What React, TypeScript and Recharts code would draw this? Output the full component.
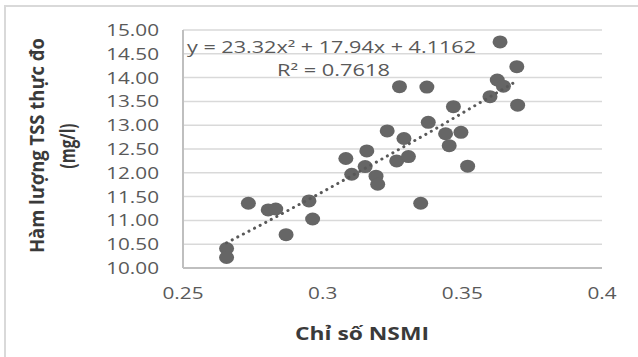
import React from 'react';
import { ScatterChart, Scatter, XAxis, YAxis, CartesianGrid } from 'recharts';

const nsmi = [
  0.2656, 0.2656, 0.2734, 0.2805, 0.2832, 0.2869, 0.2951, 0.2964, 0.3083, 0.3104, 0.3152,
  0.3158, 0.3191, 0.3197, 0.3231, 0.3265, 0.3275, 0.3291, 0.3307, 0.3351, 0.3373, 0.3378,
  0.344, 0.3453, 0.3468, 0.3495, 0.3519, 0.3599, 0.3625, 0.3635, 0.3647, 0.3695, 0.3698,
];
const tss = [
  10.41, 10.22, 11.36, 11.22, 11.24, 10.7, 11.41, 11.03, 12.3, 11.97, 12.13,
  12.46, 11.93, 11.76, 12.88, 12.25, 13.81, 12.72, 12.34, 11.36, 13.8, 13.06,
  12.82, 12.57, 13.39, 12.85, 12.14, 13.6, 13.95, 14.75, 13.82, 14.23, 13.42,
];
const trendNsmi = [0.2656, 0.28, 0.3, 0.32, 0.34, 0.36, 0.3695];
const trendTss = [10.53, 10.97, 11.6, 12.25, 12.91, 13.6, 13.93];

const xTicks = [0.25, 0.3, 0.35, 0.4];
const yTicks = [10, 10.5, 11, 11.5, 12, 12.5, 13, 13.5, 14, 14.5, 15];

const equationText = 'y = 23.32x² + 17.94x + 4.1162';
const r2Text = 'R² = 0.7618';
const xTitle = 'Chỉ số NSMI';
const yTitle1 = 'Hàm lượng TSS thực đo';
const yTitle2 = '(mg/l)';

const points = nsmi.map((x, i) => ({ x, y: tss[i] }));
const trend = trendNsmi.map((x, i) => ({ x, y: trendTss[i] }));

const FONT = '"Open Sans", sans-serif';

const YTick = (props: any) => {
  const { x, y, payload } = props;
  return (
    <g transform={`translate(${x},${y})`}>
      <text transform="scale(1.22,1)" textAnchor="end" dy="0.355em" fill="#595959" fontSize={17} fontFamily={FONT}>
        {Number(payload.value).toFixed(2)}
      </text>
    </g>
  );
};

const XTick = (props: any) => {
  const { x, y, payload } = props;
  return (
    <g transform={`translate(${x},${y})`}>
      <text transform="scale(1.22,1)" textAnchor="middle" dy="0.72em" fill="#595959" fontSize={17} fontFamily={FONT}>
        {String(payload.value)}
      </text>
    </g>
  );
};

const Dot = (props: any) => {
  const { cx, cy } = props;
  if (cx == null || cy == null) return <g />;
  return <ellipse cx={cx} cy={cy} rx={7.5} ry={6.5} fill="#666666" />;
};

const NoDot = () => <g />;

export default function App() {
  return (
    <div style={{ position: 'absolute', left: 0, top: 0, width: 638, height: 357, overflow: 'hidden', background: '#fff' }}>
      <div
        style={{
          position: 'absolute',
          left: 4,
          top: 5,
          width: 700,
          height: 400,
          border: '2px solid #d9d9d9',
          boxSizing: 'border-box',
        }}
      />
      <div style={{ position: 'absolute', left: 0, top: 0 }}>
        <ScatterChart width={638} height={357} margin={{ top: 30, right: 36, bottom: 59, left: 123 }}>
          <CartesianGrid vertical={false} stroke="#d9d9d9" strokeWidth={1.5} />
          <XAxis
            dataKey="x"
            type="number"
            domain={[0.25, 0.4]}
            ticks={xTicks}
            height={30}
            axisLine={{ stroke: '#bfbfbf', strokeWidth: 2 }}
            tickLine={false}
            tickSize={6}
            tickMargin={13}
            tick={<XTick />}
            allowDataOverflow
          />
          <YAxis
            dataKey="y"
            type="number"
            domain={[10, 15]}
            ticks={yTicks}
            width={60}
            axisLine={{ stroke: '#bfbfbf', strokeWidth: 2 }}
            tickLine={false}
            tickSize={6}
            tickMargin={18}
            tick={<YTick />}
            allowDataOverflow
          />
          <Scatter data={points} shape={<Dot />} isAnimationActive={false} />
          <Scatter
            data={trend}
            shape={<NoDot />}
            line={{ stroke: '#595959', strokeWidth: 3, strokeDasharray: '0.1 6.2', strokeLinecap: 'round' }}
            lineType="joint"
            isAnimationActive={false}
          />
        </ScatterChart>
      </div>
      <svg width={638} height={357} style={{ position: 'absolute', left: 0, top: 0, pointerEvents: 'none' }}>
        <text x={187} y={53} fontSize={15.5} fontFamily={FONT} fill="#595959" textLength={289} lengthAdjust="spacingAndGlyphs">
          {equationText}
        </text>
        <text x={277} y={76} fontSize={15.5} fontFamily={FONT} fill="#595959" textLength={113} lengthAdjust="spacingAndGlyphs">
          {r2Text}
        </text>
        <text x={295} y={340} fontSize={17} fontWeight="bold" fontFamily={FONT} fill="#3a3a3a" textLength={134} lengthAdjust="spacingAndGlyphs">
          {xTitle}
        </text>
        <g transform="translate(44,145.5) rotate(-90) scale(1,1.15)">
          <text x={0} y={0} textAnchor="middle" fontSize={17} fontWeight="bold" fontFamily={FONT} fill="#3a3a3a" textLength={215} lengthAdjust="spacingAndGlyphs">
            {yTitle1}
          </text>
        </g>
        <g transform="translate(75,146) rotate(-90) scale(1,1.2)">
          <text x={0} y={0} textAnchor="middle" fontSize={18} fontWeight="bold" fontFamily={FONT} fill="#3a3a3a" textLength={45} lengthAdjust="spacingAndGlyphs">
            {yTitle2}
          </text>
        </g>
      </svg>
    </div>
  );
}
